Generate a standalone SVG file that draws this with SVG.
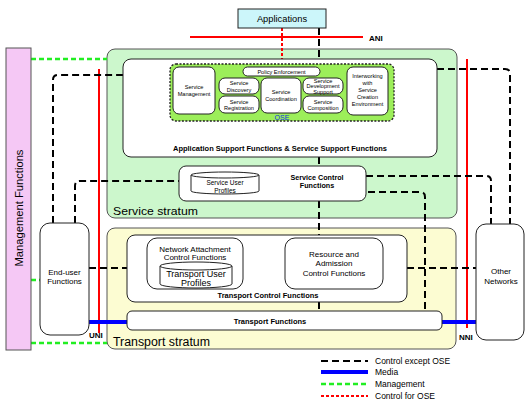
<svg xmlns="http://www.w3.org/2000/svg" width="530" height="407" viewBox="0 0 530 407">
<style>
text{font-family:"Liberation Sans",Arial,sans-serif;fill:#000}
.box{fill:#fff;stroke:#222;stroke-width:1}
.b{font-weight:bold}
.tiny{font-size:5.6px;text-anchor:middle}
.sm{font-size:8px;text-anchor:middle}
.ctl{fill:none;stroke:#000;stroke-width:2;stroke-dasharray:7 4}
.mgmt{fill:none;stroke:#22ee22;stroke-width:2.5;stroke-dasharray:5 3}
.ose{fill:none;stroke:#ff0000;stroke-width:2;stroke-dasharray:3 2}
.media{fill:none;stroke:#0000ff;stroke-width:4}
.ref{fill:none;stroke:#ff0000;stroke-width:2}
</style>
<g id="service-stratum"><rect x="107" y="49" width="350" height="169" rx="8" fill="#ccf7cc" stroke="#555"/><text x="113" y="215" font-size="11.5" textLength="85" lengthAdjust="spacingAndGlyphs">Service stratum</text></g>
<g id="transport-stratum"><rect x="107" y="228" width="349" height="121" rx="8" fill="#fcfcd2" stroke="#555"/><text x="113" y="346" font-size="12" textLength="97" lengthAdjust="spacingAndGlyphs">Transport stratum</text></g>
<g id="reference-points">
<line class="ref" x1="190" y1="37" x2="363" y2="37"/><text x="369" y="41" font-size="8" class="b">ANI</text>
<line class="ref" x1="99" y1="69" x2="99" y2="333"/><text x="89" y="338" font-size="8" class="b">UNI</text>
<line class="ref" x1="467" y1="59" x2="467" y2="328"/><text x="459" y="340" font-size="8" class="b">NNI</text>
</g>
<g id="connectors">
<path class="ose" d="M282,28 V64"/>
<path class="ctl" d="M319,28 V59"/>
<path class="ctl" d="M319,157 V166"/>
<path class="ctl" d="M319,201 V235"/>
<path class="ctl" d="M319,302 V311"/>
<path class="ctl" d="M53,223 V80 Q53,75 58,75 H123"/>
<path class="ctl" d="M75,223 V186 Q75,181 80,181 H179"/>
<path class="ctl" d="M89,268 H127"/>
<path class="ctl" d="M243,268 H285"/>
<path class="ctl" d="M407,268 H476"/>
<path class="ctl" d="M437,69 H505 Q510,69 510,74 V224"/>
<path class="ctl" d="M366,176 H486 Q491,176 491,181 V224"/>
<path class="ctl" d="M368,192 H420 Q425,192 425,197 V311"/>
<path class="mgmt" d="M31,59 H107"/>
<path class="mgmt" d="M31,280 H40"/>
<path class="mgmt" d="M31,343 H107"/>
<path class="media" d="M89,322 H127"/>
<path class="media" d="M442,322 H479"/>
</g>
<g id="applications"><rect x="238" y="9" width="88" height="19" fill="#ccf6fa" stroke="#222"/><text x="282" y="22" font-size="9.3" text-anchor="middle">Applications</text></g>
<g id="management-functions"><rect x="6" y="48" width="25" height="302" fill="#f5c8f5" stroke="#555"/><text transform="translate(22.5,208) rotate(-90)" font-size="11.2" text-anchor="middle">Management Functions</text></g>
<g id="end-user-functions"><rect class="box" x="40" y="223" width="49" height="112" rx="10"/><text class="sm" x="64.5" y="275">End-user</text><text class="sm" x="64.5" y="284">Functions</text></g>
<g id="other-networks"><rect class="box" x="476" y="224" width="48" height="116" rx="10"/><text class="sm" x="501" y="274">Other</text><text class="sm" x="501" y="284">Networks</text></g>
<g id="application-support"><rect class="box" x="123" y="59" width="314" height="98" rx="8"/><text x="280" y="151" font-size="7.5" class="b" text-anchor="middle" textLength="214" lengthAdjust="spacingAndGlyphs">Application Support Functions &amp; Service Support Functions</text></g>
<g id="ose"><rect x="170" y="64" width="224" height="57" rx="6" fill="#9cee5a" stroke="#222" stroke-dasharray="2 1.5" stroke-width="1.3"/><text x="282" y="120" font-size="7" style="fill:#1030e0" text-anchor="middle">OSE</text></g>
<g id="service-management"><rect class="box" x="173" y="67" width="42" height="47" rx="6"/><text class="tiny" x="194" y="89">Service</text><text class="tiny" x="194" y="96">Management</text></g>
<g id="policy-enforcement"><rect class="box" x="243" y="67" width="77" height="9" rx="4.5"/><text class="tiny" x="281.5" y="74">Policy Enforcement</text></g>
<g id="service-discovery"><rect class="box" x="219" y="78" width="40" height="16" rx="6"/><text class="tiny" x="239" y="85">Service</text><text class="tiny" x="239" y="91.5">Discovery</text></g>
<g id="service-registration"><rect class="box" x="219" y="96" width="40" height="17" rx="6"/><text class="tiny" x="239" y="103.5">Service</text><text class="tiny" x="239" y="110">Registration</text></g>
<g id="service-coordination"><rect class="box" x="261" y="78" width="40" height="35" rx="6"/><text class="tiny" x="281" y="94">Service</text><text class="tiny" x="281" y="101">Coordination</text></g>
<g id="service-development"><rect class="box" x="303" y="78" width="40" height="16" rx="6"/><text class="tiny" x="323" y="82.5">Service</text><text class="tiny" x="323" y="88">Development</text><text class="tiny" x="323" y="93.5">Support</text></g>
<g id="service-composition"><rect class="box" x="303" y="96" width="40" height="17" rx="6"/><text class="tiny" x="323" y="103.5">Service</text><text class="tiny" x="323" y="110">Composition</text></g>
<g id="interworking-sce"><rect class="box" x="347" y="67" width="41" height="48" rx="6"/><text class="tiny" x="367.5" y="78">Interworking</text><text class="tiny" x="367.5" y="85">with</text><text class="tiny" x="367.5" y="92">Service</text><text class="tiny" x="367.5" y="99">Creation</text><text class="tiny" x="367.5" y="106">Environment</text></g>
<g id="service-control"><rect class="box" x="179" y="166" width="187" height="35" rx="7"/><text x="317" y="180" font-size="7.2" class="b" text-anchor="middle">Service Control</text><text x="317" y="188" font-size="7.2" class="b" text-anchor="middle">Functions</text></g>
<g id="service-user-profiles"><path class="box" d="M191,175 V191 A34,3 0 0 0 259,191 V175 A34,3 0 0 0 191,175 Z"/><path fill="none" stroke="#222" d="M191,175 A34,3 0 0 0 259,175"/><text x="225" y="185" font-size="6.5" text-anchor="middle">Service User</text><text x="225" y="192.5" font-size="6.5" text-anchor="middle">Profiles</text></g>
<g id="transport-control"><rect class="box" x="127" y="235" width="280" height="67" rx="8"/><text x="268" y="298" font-size="7.5" class="b" text-anchor="middle" textLength="101" lengthAdjust="spacingAndGlyphs">Transport Control Functions</text></g>
<g id="nacf"><rect class="box" x="147" y="238" width="96" height="51" rx="10"/><text class="sm" x="195" y="252">Network Attachment</text><text class="sm" x="195" y="260">Control Functions</text></g>
<g id="transport-user-profiles"><path class="box" d="M160,266 V284 A36,4 0 0 0 232,284 V266 A36,4 0 0 0 160,266 Z"/><path fill="none" stroke="#222" d="M160,266 A36,4 0 0 0 232,266"/><text x="196" y="277" font-size="9" text-anchor="middle">Transport User</text><text x="196" y="286" font-size="9" text-anchor="middle">Profiles</text></g>
<g id="racf"><rect class="box" x="285" y="238" width="98" height="51" rx="10"/><text class="sm" x="334" y="257">Resource and</text><text class="sm" x="334" y="266">Admission</text><text class="sm" x="334" y="276">Control Functions</text></g>
<g id="transport-functions"><rect class="box" x="127" y="311" width="315" height="19" rx="5"/><text x="270" y="324" font-size="7.5" class="b" text-anchor="middle">Transport Functions</text></g>
<g id="legend">
<line class="ctl" x1="321" y1="361" x2="368" y2="361" stroke-dasharray="8 4"/><text x="375" y="364" font-size="8.5">Control except OSE</text>
<line class="media" x1="321" y1="372" x2="368" y2="372" stroke-width="3"/><text x="375" y="375" font-size="8.5">Media</text>
<line class="mgmt" x1="321" y1="384" x2="368" y2="384"/><text x="375" y="387" font-size="8.5">Management</text>
<line class="ose" x1="321" y1="396" x2="368" y2="396"/><text x="375" y="399" font-size="8.5">Control for OSE</text>
</g>
</svg>
